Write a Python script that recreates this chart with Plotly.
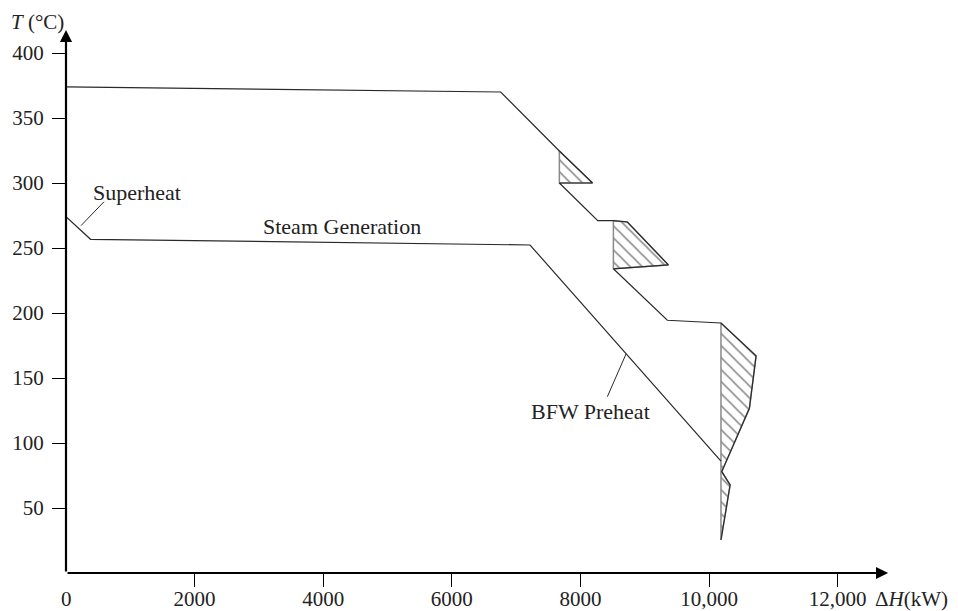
import plotly.graph_objects as go

# ---- data ----
hot_dh = [0, 6760, 7672, 8188, 7672, 8269, 8512, 8729, 9367, 8512, 9351, 10185, 10731, 10627, 10197, 10327, 10185]
hot_t = [374, 370, 324.6, 300, 300, 271, 271, 270, 237, 234, 194.4, 192.3, 167, 126.7, 78, 67.7, 25.4]

cold_dh = [0, 382, 7216, 10185]
cold_t = [274, 256.7, 252.3, 86]

pocket1_dh = [7672, 8188, 7672, 7672]
pocket1_t = [324.6, 300, 300, 324.6]
pocket2_dh = [8512, 8729, 9367, 8512, 8512]
pocket2_t = [271, 270, 237, 234, 271]
pocket3_dh = [10185, 10731, 10627, 10197, 10327, 10185, 10185]
pocket3_t = [192.3, 167, 126.7, 78, 67.7, 25.4, 192.3]

superheat_leader_dh = [591, 233]
superheat_leader_t = [285.6, 267.2]
bfw_leader_dh = [8418, 8709]
bfw_leader_t = [135.6, 168.5]

x_tickvals = [2000, 4000, 6000, 8000, 10000, 12000]
x_ticktext = ["2000", "4000", "6000", "8000", "10,000", "12,000"]
y_tickvals = [50, 100, 150, 200, 250, 300, 350, 400]

x_max = 13000
y_max = 420
x_arrow_end = 12784
y_arrow_end = 417.7

FONT = "Liberation Serif, Times New Roman, serif"
LINE = "#2a2a2a"

fig = go.Figure()

for pdh, pt in [(pocket1_dh, pocket1_t), (pocket2_dh, pocket2_t), (pocket3_dh, pocket3_t)]:
    fig.add_trace(go.Scatter(
        x=pdh, y=pt, mode="lines", fill="toself",
        line=dict(color="#8a8a8a", width=1.5),
        fillcolor="white",
        fillpattern=dict(shape="\\", size=8.5, solidity=0.2, fgcolor="#222", bgcolor="white"),
        hoverinfo="skip", showlegend=False,
    ))

fig.add_trace(go.Scatter(x=hot_dh, y=hot_t, mode="lines",
                         line=dict(color=LINE, width=1.2), showlegend=False))
fig.add_trace(go.Scatter(x=cold_dh, y=cold_t, mode="lines",
                         line=dict(color=LINE, width=1.2), showlegend=False))
fig.add_trace(go.Scatter(x=superheat_leader_dh, y=superheat_leader_t, mode="lines",
                         line=dict(color=LINE, width=1), showlegend=False))
fig.add_trace(go.Scatter(x=bfw_leader_dh, y=bfw_leader_t, mode="lines",
                         line=dict(color=LINE, width=1), showlegend=False))

# axes arrows
fig.add_annotation(x=x_arrow_end, y=0, ax=0, ay=0, xref="x", yref="y", axref="x", ayref="y",
                   text="", showarrow=True, arrowhead=2, arrowsize=1.1, arrowwidth=2.2, arrowcolor="black")
fig.add_annotation(x=0, y=y_arrow_end, ax=0, ay=0, xref="x", yref="y", axref="x", ayref="y",
                   text="", showarrow=True, arrowhead=2, arrowsize=1.1, arrowwidth=2.2, arrowcolor="black")

tf = dict(family=FONT, size=22, color="#222")
tk = dict(family=FONT, size=21, color="#222")
fig.add_annotation(x=1104, y=293, xref="x", yref="y", text="Superheat", showarrow=False, font=tf)
fig.add_annotation(x=4285, y=266.4, xref="x", yref="y", text="Steam Generation", showarrow=False, font=tf)
fig.add_annotation(x=8157, y=124.5, xref="x", yref="y", text="BFW Preheat", showarrow=False, font=tf)

# axis titles and origin label
fig.add_annotation(x=-29 / 836, y=(573 - 21.5) / 546, xref="paper", yref="paper",
                   xanchor="center", yanchor="middle",
                   text="<i>T</i> (°C)", showarrow=False, font=tk)
fig.add_annotation(x=(950 - 66) / 836, y=-(599 - 573) / 546, xref="paper", yref="paper",
                   xanchor="right", yanchor="middle",
                   text="Δ<i>H</i>(kW)", showarrow=False, font=tk)
fig.add_annotation(x=0, y=-(599 - 573) / 546, xref="x", yref="paper",
                   xanchor="center", yanchor="middle",
                   text="0", showarrow=False, font=tk)

# the page has an 8px body margin, so the figure is placed 8px in from the top-left
fig.update_layout(
    width=950, height=603,
    margin=dict(l=58, r=56, t=19, b=38, autoexpand=False),
    plot_bgcolor="white", paper_bgcolor="white",
    font=tf,
    xaxis=dict(range=[0, x_max], showgrid=False, zeroline=False, showline=False,
               automargin=False,
               tickvals=x_tickvals, ticktext=x_ticktext, ticks="outside", ticklen=13,
               tickwidth=1.2, tickcolor="black", tickfont=tk, ticklabelstandoff=-6),
    yaxis=dict(range=[0, y_max], showgrid=False, zeroline=False, showline=False,
               automargin=False,
               tickvals=y_tickvals, ticks="outside", ticklen=13,
               tickwidth=1.2, tickcolor="black", tickfont=tk, ticklabelstandoff=4),
)

fig.write_html("out.html")
